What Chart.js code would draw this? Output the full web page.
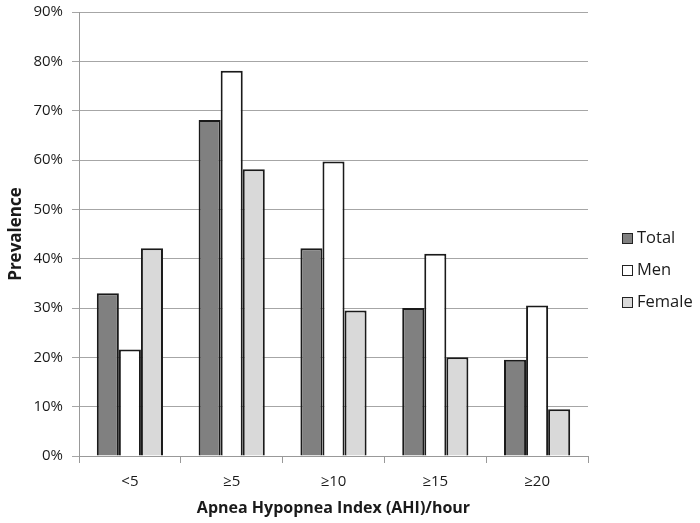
<!DOCTYPE html>
<html>
<head>
<meta charset="utf-8">
<script src="https://cdn.jsdelivr.net/npm/chart.js@4/dist/chart.umd.min.js"></script>
<style>
html,body{margin:0;padding:0;background:#fff;}
#wrap{width:700px;height:523px;position:relative;}
</style>
</head>
<body>
<div id="wrap"><canvas id="c" width="700" height="523"></canvas></div>
<script>
const categories = ['<5', '\u22655', '\u226510', '\u226515', '\u226520'];
const totalValues = [33.0, 68.1, 42.1, 30.0, 19.5];
const menValues = [21.6, 78.1, 59.7, 41.0, 30.5];
const femaleValues = [42.1, 58.1, 29.5, 20.0, 9.5];
const seriesNames = ['Total', 'Men', 'Female'];
const yTickMax = 90;
const yTickStep = 10;

const FONT = '"Open Sans", "DejaVu Sans", sans-serif';
const legendPlugin = {
  id: 'sideLegend',
  afterDraw(chart) {
    const ctx = chart.ctx;
    ctx.save();
    const x0 = 622, ys = [238, 270, 302];
    chart.data.datasets.forEach((ds, i) => {
      const y = ys[i];
      ctx.fillStyle = ds.backgroundColor;
      ctx.strokeStyle = '#222';
      ctx.lineWidth = 1;
      ctx.fillRect(x0, y - 5, 10, 10);
      ctx.strokeRect(x0 + 0.5, y - 4.5, 10, 10);
      ctx.fillStyle = '#1a1a1a';
      ctx.font = '16.5px ' + FONT;
      ctx.textBaseline = 'middle';
      ctx.textAlign = 'left';
      ctx.fillText(ds.label, x0 + 15, y);
    });
    ctx.restore();
  }
};

new Chart(document.getElementById('c'), {
  type: 'bar',
  data: {
    labels: categories,
    datasets: [
      {label: seriesNames[0], data: totalValues, backgroundColor: '#808080', borderColor: '#1a1a1a', borderWidth: 2},
      {label: seriesNames[1], data: menValues, backgroundColor: '#ffffff', borderColor: '#1a1a1a', borderWidth: 2},
      {label: seriesNames[2], data: femaleValues, backgroundColor: '#d9d9d9', borderColor: '#1a1a1a', borderWidth: 2}
    ]
  },
  options: {
    responsive: false,
    animation: false,
    devicePixelRatio: 1,
    layout: {padding: {top: 12, right: 112, left: 0, bottom: 0}},
    plugins: {legend: {display: false}, tooltip: {enabled: false}},
    datasets: {bar: {categoryPercentage: 0.65, barPercentage: 1.0}},
    scales: {
      x: {
        grid: {display: true, drawOnChartArea: false, drawTicks: true, tickLength: 7, color: '#999', offset: true},
        border: {color: '#999', width: 1},
        ticks: {color: '#1a1a1a', font: {family: FONT, size: 15}, padding: 10},
        title: {display: true, text: 'Apnea Hypopnea Index (AHI)/hour', color: '#1a1a1a', font: {family: FONT, size: 16, weight: 'bold'}, padding: {top: 5, bottom: 5}},
        afterFit(s) { s.height = 67; s.paddingLeft = 0; s.paddingRight = 0; }
      },
      y: {
        min: 0, max: yTickMax,
        grid: {color: '#a6a6a6', lineWidth: 1, tickLength: 7},
        border: {color: '#999', width: 1},
        ticks: {stepSize: yTickStep, color: '#1a1a1a', font: {family: FONT, size: 15}, padding: 9, callback: v => v + '%'},
        title: {display: true, text: 'Prevalence', color: '#1a1a1a', font: {family: FONT, size: 17, weight: 'bold'}, padding: {top: 6, bottom: 5}},
        afterFit(s) { s.width = 79; s.paddingTop = 0; s.paddingBottom = 0; }
      }
    }
  },
  plugins: [legendPlugin]
});
</script>
</body>
</html>
